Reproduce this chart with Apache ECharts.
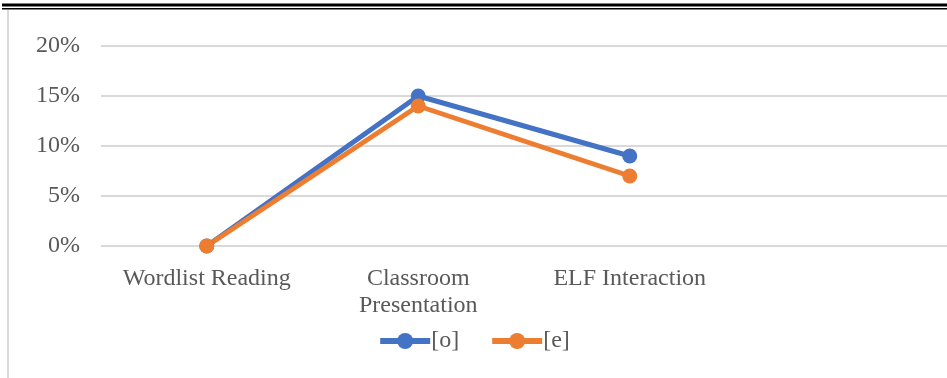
<!DOCTYPE html>
<html>
<head>
<meta charset="utf-8">
<script src="https://cdn.jsdelivr.net/npm/echarts@6/dist/echarts.min.js"></script>
<style>
  html, body { margin: 0; padding: 0; background: #fff; }
  #chart { width: 947px; height: 378px; }
</style>
</head>
<body>
<div id="chart"></div>
<script>
// Speaking tasks (last slot left empty so the plot runs on to the right)
const categories = ['Wordlist Reading', 'Classroom\nPresentation', 'ELF Interaction', ''];
// Share of tokens per vowel, in percent
const seriesO = [0, 15, 9, null];
const seriesE = [0, 14, 7, null];
const yTicks = { min: 0, max: 20, interval: 5 };

const FONT = '"Liberation Serif", "DejaVu Serif", serif';
const TEXT = '#595959';

const chart = echarts.init(document.getElementById('chart'), null, { renderer: 'canvas' });

function lineSeries(name, data, color) {
  return {
    name: name,
    type: 'line',
    data: data,
    symbol: 'circle',
    symbolSize: 15,
    lineStyle: { width: 5, color: color },
    itemStyle: { color: color },
    emphasis: { disabled: true },
    animation: false
  };
}

chart.setOption({
  animation: false,
  textStyle: { fontFamily: FONT },
  grid: { left: 101, right: -1, top: 46, bottom: 132, containLabel: false },
  xAxis: {
    type: 'category',
    data: categories,
    boundaryGap: true,
    axisLine: { show: false },
    axisTick: { show: false },
    axisLabel: {
      color: TEXT, fontFamily: FONT, fontSize: 24, lineHeight: 27,
      margin: 19, interval: 0
    }
  },
  yAxis: {
    type: 'value',
    min: yTicks.min, max: yTicks.max, interval: yTicks.interval,
    axisLine: { show: false },
    axisTick: { show: false },
    axisLabel: {
      color: TEXT, fontFamily: FONT, fontSize: 24, margin: 21,
      formatter: '{value}%'
    },
    splitLine: { lineStyle: { color: '#d9d9d9', width: 2 } }
  },
  legend: {
    data: ['[o]', '[e]'],
    left: 'center',
    top: 324,
    itemWidth: 50,
    itemHeight: 20,
    itemGap: 30,
    lineStyle: { width: 6 },
    textStyle: { color: TEXT, fontFamily: FONT, fontSize: 24, padding: [0, 0, 0, -4] }
  },
  series: [
    lineSeries('[o]', seriesO, '#4472C4'),
    lineSeries('[e]', seriesE, '#ED7D31')
  ],
  graphic: [
    // page rules above the chart
    { type: 'rect', shape: { x: 2, y: 3.5, width: 945, height: 3 }, style: { fill: '#000' }, silent: true },
    { type: 'rect', shape: { x: 2, y: 8, width: 945, height: 1.5 }, style: { fill: '#000' }, silent: true },
    // chart area border on the left
    { type: 'rect', shape: { x: 7, y: 10, width: 2, height: 368 }, style: { fill: '#d9d9d9' }, silent: true }
  ]
});
</script>
</body>
</html>
